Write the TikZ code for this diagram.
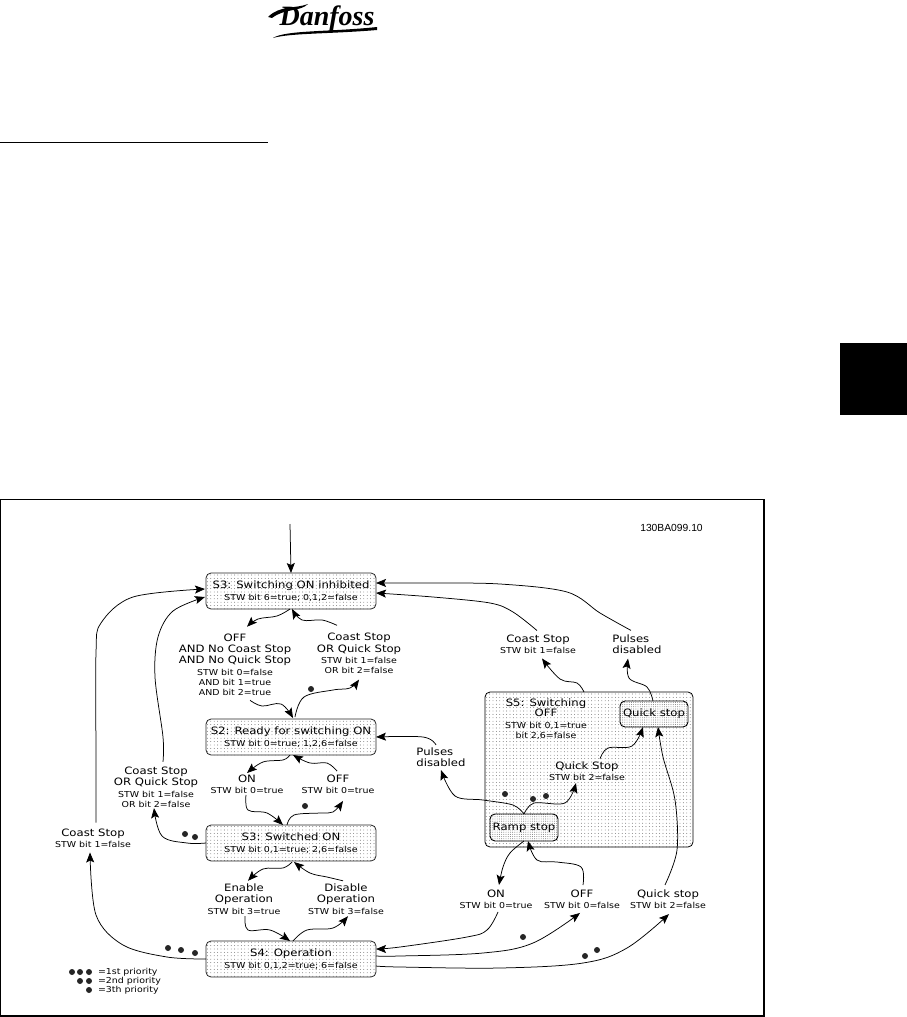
\documentclass[tikz,border=0pt]{standalone}
\usepackage{fontspec}
\setmainfont[FakeStretch=1.15]{DejaVu Sans}
\newfontfamily\logofont{Liberation Serif}
\newfontfamily\refont{Liberation Sans}
\usetikzlibrary{arrows.meta,patterns.meta}
\newcommand{\lgf}{\fontsize{10.15}{11.3}\selectfont}
\newcommand{\smf}{\fontsize{8.2}{10}\selectfont}
\tikzset{
  state/.style={draw=black!85,line width=0.8pt,rounded corners=5pt,inner sep=0pt,outer sep=0pt,
    minimum width=170pt,minimum height=36pt,align=center,font=\lgf,
    pattern={Dots[distance=3.4pt,radius=0.42pt]},pattern color=black!70},
  superstate/.style={draw=black,line width=0.8pt,rounded corners=5pt,inner sep=0pt,outer sep=0pt,
    minimum width=208pt,minimum height=155pt,
    pattern={Dots[distance=3.4pt,radius=0.42pt]},pattern color=black!70},
  substate/.style={draw=black,line width=0.9pt,rounded corners=5pt,inner sep=0pt,outer sep=0pt,
    minimum width=68pt,minimum height=26pt,font=\lgf,preaction={fill=white},
    pattern={Dots[distance=2.2pt,radius=0.45pt]},pattern color=black!60},
  lab/.style={inner sep=0pt,outer sep=0pt,align=center,font=\lgf},
  conn/.style={draw=black,line width=0.75pt,-{Stealth[length=10pt,width=8pt,inset=2pt]}},
  dotmark/.style={circle,fill=black!85,inner sep=0pt,minimum size=6pt},
}
\begin{document}
\begin{tikzpicture}[x=1pt,y=-1pt]
\useasboundingbox (0,0) rectangle (907,1017);
% page furniture
\node[inner sep=0pt,font=\logofont\bfseries\itshape\fontsize{28}{28}\selectfont] (logo) at (327,19) {Danfoss};
\fill (268,17) .. controls (280,5) and (295,9) .. (308,4) .. controls (300,12) and (285,8) .. (272,18) -- cycle;
\fill (273,38) .. controls (285,30) and (330,32) .. (377,27) -- (377,30) .. controls (330,34) and (290,33) .. (273,38) -- cycle;
\draw[line width=1pt] (0,142) -- (268,142);
\fill[black] (840,343) rectangle (907,415);
\draw[line width=1.1pt] (0.5,499.5) rectangle (764,1016);
\node[inner sep=0pt,font=\refont\fontsize{10.3}{12}\selectfont] (ref) at (671.5,528) {130BA099.10};

% states
\node[state] (inhib) at (291,591) {S3: Switching ON inhibited\\[1pt]{\smf STW bit 6=true; 0,1,2=false}};
\node[state] (ready) at (291,737) {S2: Ready for switching ON\\[0pt]{\smf STW bit 0=true; 1,2,6=false}};
\node[state] (swon) at (291,843) {S3: Switched ON\\[0pt]{\smf STW bit 0,1=true; 2,6=false}};
\node[state] (oper) at (291,959) {S4: Operation\\[0pt]{\smf STW bit 0,1,2=true; 6=false}};
\node[superstate] (swoff) at (589,769.5) {};
\node[substate] (qbox) at (654,714) {Quick stop};
\node[substate,minimum height=27pt] (rbox) at (524,827.5) {Ramp stop};
\node[lab] (swofft) at (546,719) {S5: Switching\\[-1pt]OFF\\[1pt]{\smf STW bit 0,1=true}\\[-1.3pt]{\smf bit 2,6=false}};

% labels
\node[lab] (offa) at (235,664.5) {OFF\\AND No Coast Stop\\AND No Quick Stop\\{\smf STW bit 0=false}\\[-1.3pt]{\smf AND bit 1=true}\\[-1.3pt]{\smf AND bit 2=true}};
\node[lab] (coastb) at (359,653.5) {Coast Stop\\OR Quick Stop\\{\smf STW bit 1=false}\\[-1.3pt]{\smf OR bit 2=false}};
\node[lab] (onc) at (247,784.5) {ON\\{\smf STW bit 0=true}};
\node[lab] (offc) at (338,784.5) {OFF\\{\smf STW bit 0=true}};
\node[lab] (coastc) at (156,787) {Coast Stop\\OR Quick Stop\\{\smf STW bit 1=false}\\[-1.3pt]{\smf OR bit 2=false}};
\node[lab] (coastd) at (93,838) {Coast Stop\\{\smf STW bit 1=false}};
\node[lab] (enable) at (244,899) {Enable\\Operation\\{\smf STW bit 3=true}};
\node[lab] (disable) at (346,899) {Disable\\Operation\\{\smf STW bit 3=false}};
\node[lab] (coaste) at (538,644) {Coast Stop\\{\smf STW bit 1=false}};
\node[lab,align=left] (pulsea) at (637,644) {Pulses\\disabled};
\node[lab,align=left] (pulseb) at (441,757.5) {Pulses\\disabled};
\node[lab] (quicka) at (587,771.5) {Quick Stop\\{\smf STW bit 2=false}};
\node[lab] (onf) at (496,899.5) {ON\\{\smf STW bit 0=true}};
\node[lab] (offf) at (582,899.5) {OFF\\{\smf STW bit 0=false}};
\node[lab] (quickf) at (668,899.5) {Quick stop\\{\smf STW bit 2=false}};
\coordinate (entry) at (290,524);

% connectors
\draw[conn] (entry) -- ([shift={(0,0)}]inhib.north);
\draw[conn] plot[smooth,tension=0.55] coordinates {([shift={(3,-6)}]coastd.north) (96,758) (96,653) (101,623) (133,597) ([shift={(-1,-2)}]inhib.west)};
\draw[conn] plot[smooth,tension=0.55] coordinates {([shift={(7,-5)}]coastc.north) (163,737) (155,677) (158,637) (173,611) ([shift={(-1,6)}]inhib.west)};
\draw[conn] plot[smooth,tension=0.6] coordinates {([shift={(-1,0)}]inhib.south) (277,616) (258,619) ([shift={(12,-7)}]offa.north)};
\draw[conn] plot[smooth,tension=0.6] coordinates {([shift={(-22,-8)}]coastb.north) (322,620) (302,620) ([shift={(1,0)}]inhib.south)};
\draw[conn] plot[smooth,tension=0.6] coordinates {([shift={(15,5)}]offa.south) (262,706) (281,704) ([shift={(2,-1)}]ready.north)};
\draw[conn] plot[smooth,tension=0.6] coordinates {([shift={(4,-2)}]ready.north) (304,697) (333,690) (350,688) ([shift={(0,6)}]coastb.south)};
\draw[conn] plot[smooth,tension=0.6] coordinates {([shift={(-1,0)}]ready.south) (283,760) (263,762) ([shift={(0,-2)}]onc.north)};
\draw[conn] plot[smooth,tension=0.6] coordinates {([shift={(-1,-4)}]offc.north) (327,763) (310,763) ([shift={(2,0)}]ready.south)};
\draw[conn] plot[smooth,tension=0.6] coordinates {([shift={(-1,1)}]onc.south) (248,810) (267,813) ([shift={(-8,0)}]swon.north)};
\draw[conn] plot[smooth,tension=0.6] coordinates {([shift={(-4,0)}]swon.north) (294,815) (320,813) (333,812) ([shift={(5,7)}]offc.south)};
\draw[conn] plot[smooth,tension=0.6] coordinates {(swon.west) (187,843) (162,836) ([shift={(-2,1)}]coastc.south)};
\draw[conn] plot[smooth,tension=0.6] coordinates {([shift={(1,1)}]swon.south) (283,868) (263,869) ([shift={(4,-3)}]enable.north)};
\draw[conn] plot[smooth,tension=0.6] coordinates {([shift={(-3,-3)}]disable.north) (327,877) (310,873) ([shift={(3,1)}]swon.south)};
\draw[conn] plot[smooth,tension=0.6] coordinates {([shift={(1,2)}]enable.south) (248,930) (270,930) ([shift={(-1,0)}]oper.north)};
\draw[conn] plot[smooth,tension=0.6] coordinates {([shift={(2,0)}]oper.north) (307,930) (333,928) ([shift={(2,2)}]disable.south)};
\draw[conn] plot[smooth,tension=0.55] coordinates {(oper.west) (167,957) (123,945) (96,915) ([shift={(-3,5)}]coastd.south)};
% right-hand side
\draw[conn] plot[smooth,tension=0.55] coordinates {([shift={(-6,-4)}]pulsea.north) (600,613) (567,592) (500,584) (430,583) ([shift={(0,-8)}]inhib.east)};
\draw[conn] plot[smooth,tension=0.55] coordinates {([shift={(-1,-4)}]coaste.north) (513,612) (490,603) (433,597) ([shift={(0,2)}]inhib.east)};
\draw[conn] plot[smooth,tension=0.6] coordinates {([shift={(-5,0)}]swoff.north) (577,683) (560,679) ([shift={(4,5)}]coaste.south)};
\draw[conn] plot[smooth,tension=0.6] coordinates {([shift={(-1,0)}]qbox.north) (647,687) (629,678) ([shift={(-9,5)}]pulsea.south)};
\draw[conn] plot[smooth,tension=0.6] coordinates {([shift={(-5,-3)}]pulseb.north) (423,737) (ready.east)};
\draw[conn] plot[smooth,tension=0.55] coordinates {(rbox.north) (513,805) (483,800) (455,796) ([shift={(0,3)}]pulseb.south)};
\draw[conn] plot[smooth,tension=0.55] coordinates {(rbox.north) (534,803) (565,803) ([shift={(-11,2)}]quicka.south)};
\draw[conn] plot[smooth,tension=0.6] coordinates {([shift={(13,-3)}]quicka.north) (608,748) (632,746) ([shift={(-11,0)}]qbox.south)};
\draw[conn] plot[smooth,tension=0.55] coordinates {([shift={(-3,-5)}]quickf.north) (677,850) (675,800) (663,757) ([shift={(4,0)}]qbox.south)};
\draw[conn] plot[smooth,tension=0.6] coordinates {(rbox.south) (510,853) (503,867) ([shift={(3,-5)}]onf.north)};
\draw[conn] plot[smooth,tension=0.6] coordinates {([shift={(1,-5)}]offf.north) (581,867) (557,862) (537,860) ([shift={(4,0)}]rbox.south)};
\draw[conn] plot[smooth,tension=0.6] coordinates {([shift={(2,3)}]onf.south) (487,930) (467,937) (400,947) ([shift={(0,-10)}]oper.east)};
\draw[conn] plot[smooth,tension=0.6] coordinates {([shift={(0,-3)}]oper.east) (400,956) (483,953) (533,943) ([shift={(-2,4)}]offf.south)};
\draw[conn] plot[smooth,tension=0.6] coordinates {([shift={(0,7)}]oper.east) (400,967) (500,968) (583,963) (627,948) ([shift={(1,5)}]quickf.south)};

% priority dots
\foreach \n/\x/\y in {a/311/689,b/305/806,c/185/834,d/195/837,e/168/948,f/181/950,g/195/953,
  h/505/794,i/533/799,j/546/796,k/523/937,l/585/956,m/597/950,
  p/72/972,q/80/972,r/89/972,s/80/981,t/89/981,u/89/990}
  \node[dotmark] (dot\n) at (\x,\y) {};
\node[lab,anchor=west,font=\smf] (leg1) at (98,972) {=1st priority};
\node[lab,anchor=west,font=\smf] (leg2) at (98,981) {=2nd priority};
\node[lab,anchor=west,font=\smf] (leg3) at (98,990) {=3th priority};
\end{tikzpicture}
\end{document}
